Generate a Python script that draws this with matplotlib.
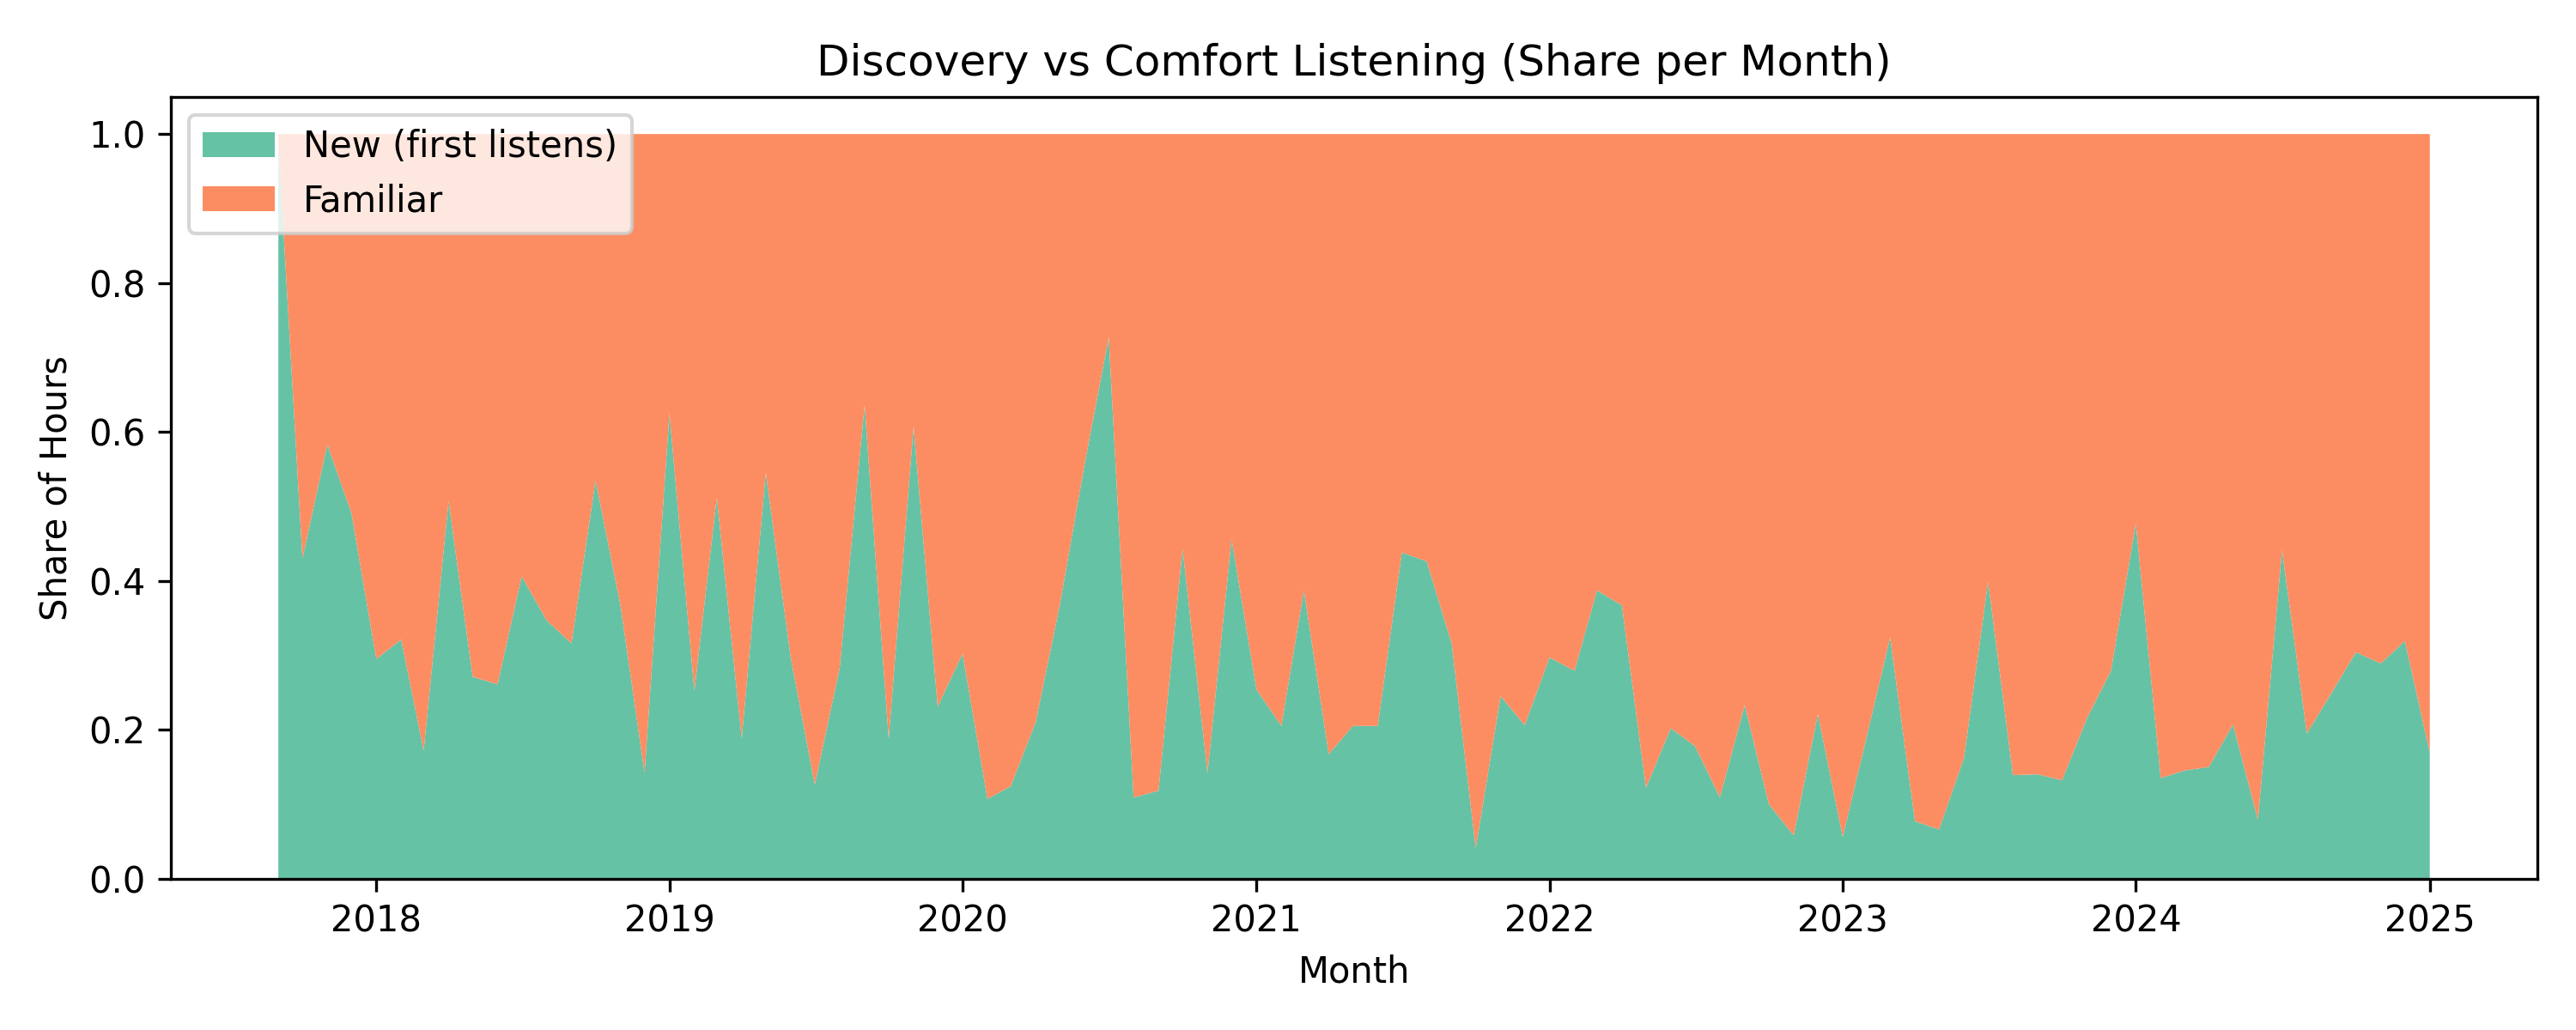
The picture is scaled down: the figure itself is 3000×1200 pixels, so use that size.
import matplotlib
matplotlib.use("Agg")
import matplotlib.pyplot as plt
import numpy as np
import pandas as pd

# monthly share of listening hours that were first listens
months = pd.date_range("2017-09-01", "2025-01-01", freq="MS")
new_share = [
    0.99, 0.430, 0.583, 0.491, 0.295, 0.321, 0.172, 0.507, 0.271, 0.261, 0.406, 0.347,
    0.316, 0.535, 0.367, 0.142, 0.625, 0.252, 0.512, 0.188, 0.545, 0.297, 0.126, 0.283,
    0.636, 0.188, 0.607, 0.231, 0.302, 0.107, 0.124, 0.210, 0.367, 0.557, 0.727, 0.109,
    0.118, 0.443, 0.142, 0.456, 0.254, 0.205, 0.387, 0.167, 0.205, 0.205, 0.438, 0.426,
    0.316, 0.041, 0.245, 0.206, 0.297, 0.279, 0.387, 0.367, 0.122, 0.202, 0.178, 0.109,
    0.233, 0.100, 0.058, 0.221, 0.056, 0.196, 0.324, 0.077, 0.066, 0.162, 0.399, 0.139,
    0.140, 0.132, 0.215, 0.279, 0.477, 0.135, 0.145, 0.150, 0.207, 0.079, 0.441, 0.195,
    0.250, 0.304, 0.289, 0.319, 0.169,
]
new_share = np.array(new_share)
familiar_share = 1 - new_share

labels = ["New (first listens)", "Familiar"]
colors = ["#66c2a5", "#fc8d62"]

fig, ax = plt.subplots(figsize=(10, 4), dpi=300)
ax.stackplot(months, new_share, familiar_share, labels=labels, colors=colors)
ax.set_title("Discovery vs Comfort Listening (Share per Month)")
ax.set_xlabel("Month")
ax.set_ylabel("Share of Hours")
ax.legend(loc="upper left")
fig.subplots_adjust(left=0.0663, right=0.985, bottom=0.147, top=0.906)
fig.savefig("out.png")
